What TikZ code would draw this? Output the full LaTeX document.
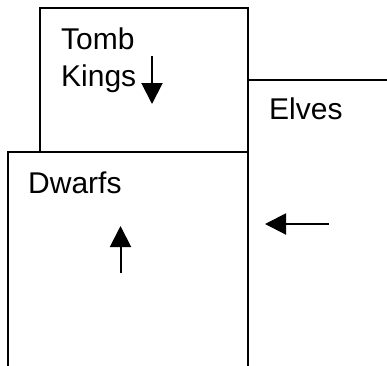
\documentclass[tikz,border=0pt]{standalone}
\usepackage{fontspec}
\setmainfont{Liberation Sans}
\usetikzlibrary{arrows.meta}
\tikzset{
  boxline/.style={line width=1.6pt, line cap=rect},
  label/.style={font=\fontsize{30}{37}\selectfont, inner sep=0pt, anchor=base west, align=left},
  movearrow/.style={line width=2pt, -{Triangle[length=21pt,width=21pt]}}
}
\begin{document}
\begin{tikzpicture}[x=1pt,y=-1pt]
\useasboundingbox (0,0) rectangle (387,365);
% Tomb Kings box
\coordinate (tkNW) at (40,8);
\coordinate (tkSE) at (248,152);
\draw[boxline] (tkNW) rectangle (tkSE);
% Dwarfs box (open at bottom)
\coordinate (dwBL) at (8,366);
\coordinate (dwNW) at (8,152);
\coordinate (dwNE) at (248,152);
\coordinate (dwBR) at (248,366);
\draw[boxline] (dwBL) -- (dwNW) -- (dwNE) -- (dwBR);
% Elves border
\coordinate (elW) at (248,80);
\coordinate (elE) at (388,80);
\draw[boxline] (elW) -- (elE);
% labels
\node[label] (tomb) at (61,86) {Tomb\\Kings};
\node[label] (elves) at (269,119) {Elves};
\node[label] (dwarfs) at (28,193) {Dwarfs};
% arrows
\coordinate (a1s) at (152,56);
\coordinate (a1e) at (152,104);
\draw[movearrow] (a1s) -- (a1e);
\coordinate (a2s) at (120.5,273);
\coordinate (a2e) at (120.5,226);
\draw[movearrow] (a2s) -- (a2e);
\coordinate (a3s) at (329,224);
\coordinate (a3e) at (265,224);
\draw[movearrow] (a3s) -- (a3e);
\end{tikzpicture}
\end{document}
